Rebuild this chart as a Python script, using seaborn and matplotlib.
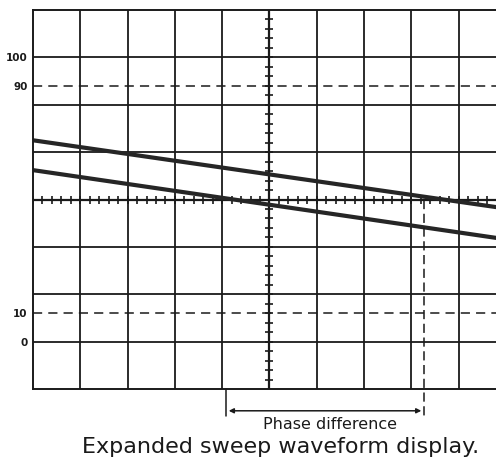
import numpy as np
import seaborn as sns
import matplotlib.pyplot as plt

# graticule values, in divisions
level_pos = [1, 1.6, 6.4, 7]
level_labels = ['0', '10', '90', '100']
dashed_levels = [1.6, 6.4]

# two traces (start / end of visible screen)
trace_x = [0, 9.79]
trace_upper = [5.25, 3.84]
trace_lower = [4.62, 3.19]

# phase difference bracket
phase_start = 4.08
phase_end = 8.27

sns.set_theme(style='white')
plt.rcParams['font.family'] = ['DejaVu Sans']

fig = plt.figure(figsize=(4.96, 4.59), dpi=100)
ax = fig.add_axes([33 / 496, 70 / 459, 463 / 496, 379 / 459])
ax.set_xlim(0, 9.79)
ax.set_ylim(0, 8)

ink = '#1a1a1a'

# grid (vertical and horizontal divisions)
ax.vlines(np.arange(1, 10), 0, 8, color=ink, lw=1.3)
ax.hlines(np.arange(1, 8), 0, 9.79, color=ink, lw=1.3)
ax.set_xticks([])
ax.set_yticks(level_pos)
ax.set_yticklabels(level_labels, fontsize=7.5, fontweight='bold', color=ink)
ax.tick_params(axis='y', length=0, pad=4)
for s in ['left', 'top', 'bottom']:
    ax.spines[s].set_color(ink)
    ax.spines[s].set_linewidth(1.4)
ax.spines['right'].set_visible(False)

for lv in dashed_levels:
    ax.axhline(lv, color=ink, lw=1.1, ls=(0, (6, 4)))

# centre axes with fine division marks
ax.axhline(4, color=ink, lw=1.6)
ax.axvline(5, color=ink, lw=1.6)
fine = np.arange(0, 9.8, 0.2)
ax.plot(fine, np.full_like(fine, 4.0), ls='none', marker='+', ms=5.5, mew=1.2, color=ink)
fine_y = np.arange(0.2, 8, 0.2)
ax.plot(np.full_like(fine_y, 5.0), fine_y, ls='none', marker='+', ms=5.5, mew=1.2, color=ink)

# traces
sns.lineplot(x=trace_x, y=trace_upper, ax=ax, color='#262626', lw=3.0)
sns.lineplot(x=trace_x, y=trace_lower, ax=ax, color='#262626', lw=3.0)

# phase difference marker
ax.plot([phase_end, phase_end], [4, -0.62], color=ink, lw=1.1, ls=(0, (6, 3)), clip_on=False)
ax.plot([phase_start, phase_start], [0, -0.58], color=ink, lw=1.1, clip_on=False)
ax.annotate('', xy=(phase_start, -0.46), xytext=(phase_end, -0.46),
            arrowprops=dict(arrowstyle='<|-|>', color=ink, lw=1.1, mutation_scale=7),
            annotation_clip=False)
ax.text((phase_start + phase_end) / 2 + 0.1, -0.74, 'Phase difference', ha='center', va='center',
        fontsize=11.5, color=ink, clip_on=False)

fig.text(281 / 496, 1 - 447 / 459, 'Expanded sweep waveform display.', ha='center', va='center',
         fontsize=16, color=ink)

fig.savefig('out.png', dpi=100, facecolor='white')
